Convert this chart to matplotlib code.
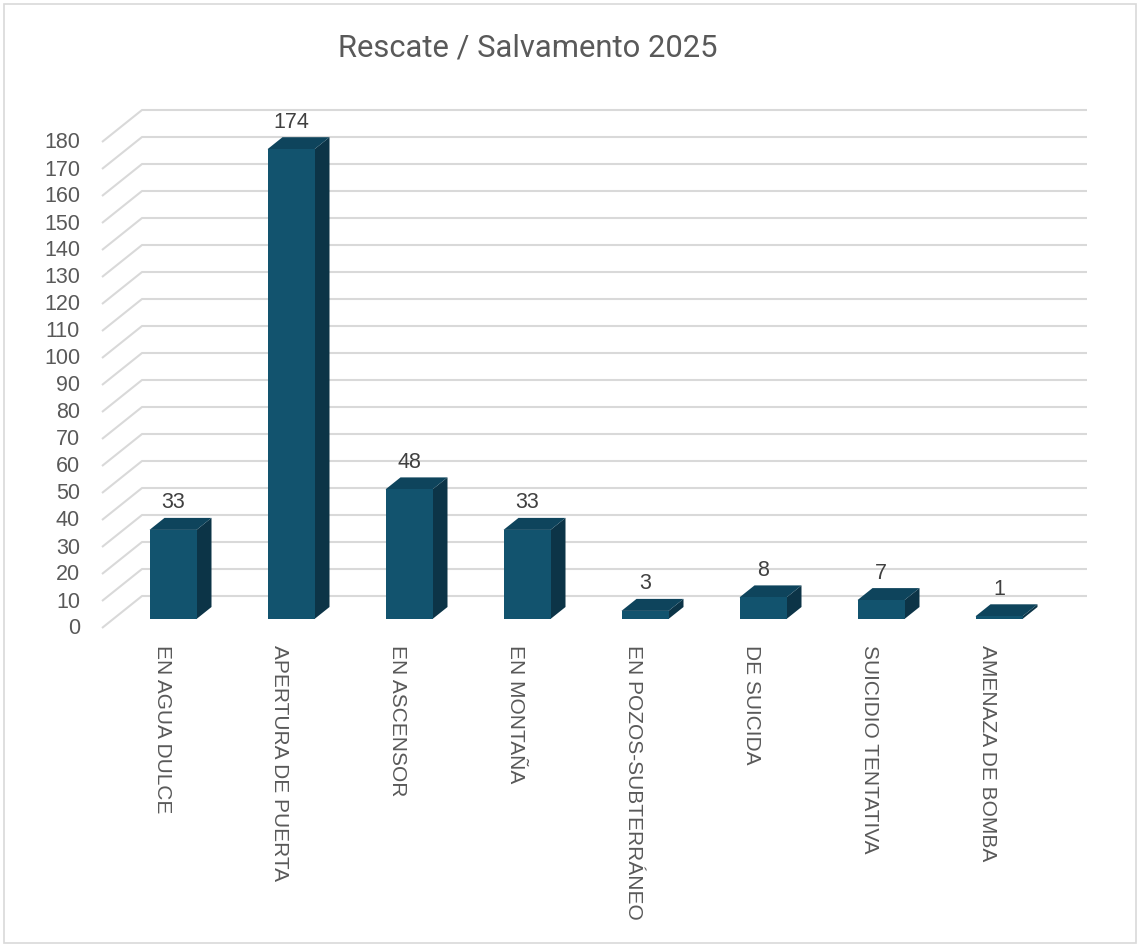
import matplotlib
matplotlib.use("Agg")
import matplotlib.pyplot as plt
from matplotlib.patches import Polygon, Rectangle

categories = ["EN AGUA DULCE", "APERTURA DE PUERTA", "EN ASCENSOR", "EN MONTAÑA",
              "EN POZOS-SUBTERRÁNEO", "DE SUICIDA", "SUICIDIO TENTATIVA", "AMENAZA DE BOMBA"]
values = [33, 174, 48, 33, 3, 8, 7, 1]
yticks = list(range(0, 181, 10))
title = "Rescate / Salvamento 2025"

W, H, DPI = 1137, 945, 100
fig = plt.figure(figsize=(W / DPI, H / DPI), dpi=DPI)
ax = fig.add_axes([0, 0, 1, 1])
ax.set_axis_off()

# scale: 118 px per category, 2.7 px per unit
PXC, PXV = 118.0, 2.7
x0px, y0px = 173.0, 620.0  # bar front center of first category, zero line (from top)
ax.set_xlim(-x0px / PXC, (W - x0px) / PXC)
ax.set_ylim(-(H - y0px) / PXV, y0px / PXV)

# grid geometry (in data units)
front_x = (102 - x0px) / PXC
front_dy = -9 / PXV
back_dx = 40 / PXC
back_dy = 32 / PXV
right_x = (1087 - x0px) / PXC
grid_col = "#d9d9d9"
for t in yticks:
    yf = t + front_dy
    ax.plot([front_x, front_x + back_dx, right_x], [yf, yf + back_dy, yf + back_dy],
            color=grid_col, lw=1.5, zorder=1, solid_capstyle="butt")
    ax.text((80 - x0px) / PXC, yf, str(t), ha="right", va="center",
            fontsize=15.5, color="#595959", family="Liberation Sans")

# bars
bw = 47 / PXC
ddx = 15 / PXC
ddy = 12 / PXV
c_front, c_side, c_top = "#12536e", "#0c3447", "#0e445c"
for i, (cat, v) in enumerate(zip(categories, values)):
    l, r = i - bw / 2, i + bw / 2
    ax.add_patch(Polygon([(r, 0), (r + ddx, ddy), (r + ddx, v + ddy), (r, v)],
                         closed=True, facecolor=c_side, edgecolor="none", zorder=3))
    ax.add_patch(Polygon([(l, v), (r, v), (r + ddx, v + ddy), (l + ddx, v + ddy)],
                         closed=True, facecolor=c_top, edgecolor="none", zorder=3))
    ax.add_patch(Rectangle((l, 0), bw, v, facecolor=c_front, edgecolor="none", zorder=4))
    ax.text(i, v + ddy + 16 / PXV, str(v), ha="center", va="center",
            fontsize=15.5, color="#404040", family="Liberation Sans", zorder=5)
    ax.text(i - 11 / PXC, -25 / PXV, cat, rotation=270, ha="center", va="top",
            fontsize=15, color="#595959", family="Liberation Sans")

fig.text(527.5 / W, 1 - 48 / H, title, ha="center", va="center",
         fontsize=22.3, color="#595959", family="Roboto")

# outer frame
fig.add_artist(Rectangle((4 / W, 1 - 944 / H), 1132 / W, 939 / H, transform=fig.transFigure,
                         facecolor="none", edgecolor="#d9d9d9", lw=1.2))

fig.savefig("out.png", dpi=DPI, facecolor="white")
